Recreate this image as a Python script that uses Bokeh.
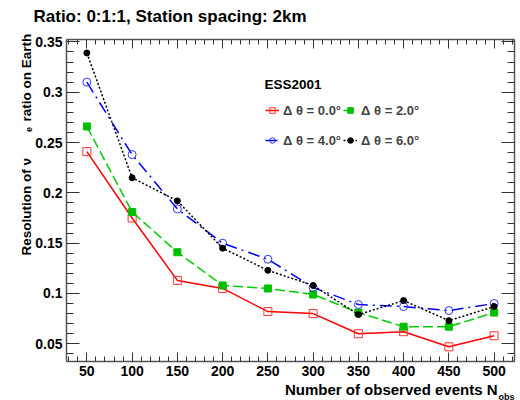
import numpy as np
from bokeh.plotting import figure
from bokeh.models import (Range1d, LinearAxis, FixedTicker, Label, Legend, LegendItem,
                          ColumnDataSource, CustomLabelingPolicy)
from bokeh.embed import file_html
from bokeh.resources import INLINE

# ---------------- data ----------------
n_obs = [50, 100, 150, 200, 250, 300, 350, 400, 450, 500]
res_dtheta_0 = [0.241, 0.175, 0.113, 0.105, 0.082, 0.080, 0.060, 0.062, 0.047, 0.058]
res_dtheta_2 = [0.266, 0.181, 0.141, 0.108, 0.105, 0.099, 0.081, 0.067, 0.067, 0.081]
res_dtheta_4 = [0.310, 0.238, 0.184, 0.150, 0.134, 0.106, 0.089, 0.087, 0.083, 0.090]
res_dtheta_6 = [0.339, 0.215, 0.192, 0.145, 0.123, 0.108, 0.079, 0.093, 0.073, 0.087]
series_labels = ["\u0394 \u03b8 = 0.0\u00b0", "\u0394 \u03b8 = 2.0\u00b0",
                 "\u0394 \u03b8 = 4.0\u00b0", "\u0394 \u03b8 = 6.0\u00b0"]
x_tick_values = [50, 100, 150, 200, 250, 300, 350, 400, 450, 500]
x_tick_labels = ["50", "100", "150", "200", "250", "300", "350", "400", "450", "500"]
y_tick_values = [0.05, 0.1, 0.15, 0.2, 0.25, 0.3, 0.35]
y_tick_labels = ["0.05", "0.1", "0.15", "0.2", "0.25", "0.3", "0.35"]
title_text = "Ratio: 0:1:1, Station spacing: 2km"
legend_title = "ESS2001"

FONT = "Liberation Sans"

# frame in canvas pixels: left 66, right 514, top 39, bottom 361
p = figure(width=520, height=400, output_backend="svg", toolbar_location=None,
           x_range=Range1d(27.5, 522.5), y_range=Range1d(0.0324, 0.3524),
           min_border_left=66, min_border_right=6, min_border_top=39, min_border_bottom=39,
           x_axis_type=None, y_axis_type=None)
p.outline_line_color = None
p.background_fill_color = "white"
p.border_fill_color = "white"

x_minor = list(np.arange(30, 521, 10))
y_minor = list(np.round(np.arange(0.04, 0.351, 0.01), 3))
xt = FixedTicker(ticks=x_tick_values, minor_ticks=x_minor)
yt = FixedTicker(ticks=y_tick_values, minor_ticks=y_minor)

AX_COL = "#555555"
no_labels = CustomLabelingPolicy(code="for (const i of indices) { indices.unset(i) } return indices")


def style_axis(ax, tick_in, minor_in, show_labels):
    ax.axis_line_color = AX_COL
    ax.axis_line_width = 1.5
    ax.major_tick_line_color = "#333333"
    ax.minor_tick_line_color = "#333333"
    ax.major_tick_in = tick_in
    ax.major_tick_out = 0
    ax.minor_tick_in = minor_in
    ax.minor_tick_out = 0
    ax.major_label_text_font = FONT
    ax.major_label_text_font_style = "bold"
    ax.major_label_text_color = "black"
    if show_labels:
        ax.major_label_text_font_size = "14px"
        ax.major_label_standoff = 4
    else:
        ax.major_label_text_font_size = "0px"
        ax.major_label_policy = no_labels
        ax.major_label_standoff = 0


xb = LinearAxis(ticker=xt, major_label_overrides=dict(zip(x_tick_values, x_tick_labels)))
style_axis(xb, 9, 5, True)
p.add_layout(xb, "below")
xa = LinearAxis(ticker=xt)
style_axis(xa, 9, 5, False)
p.add_layout(xa, "above")
yl = LinearAxis(ticker=yt, major_label_overrides=dict(zip(y_tick_values, y_tick_labels)))
style_axis(yl, 13, 7, True)
p.add_layout(yl, "left")
yr = LinearAxis(ticker=yt)
style_axis(yr, 13, 7, False)
p.add_layout(yr, "right")

# ---------------- series ----------------
src = ColumnDataSource(dict(x=n_obs, r0=res_dtheta_0, r2=res_dtheta_2, r4=res_dtheta_4, r6=res_dtheta_6))

l0 = p.line("x", "r0", source=src, line_color="#ff0000", line_width=1.5)
m0 = p.scatter("x", "r0", source=src, marker="square", size=8, line_color="#ff3333",
               fill_color=None, line_width=1)
l2 = p.line("x", "r2", source=src, line_color="#00cc00", line_width=1.5, line_dash="10 4")
m2 = p.scatter("x", "r2", source=src, marker="square", size=7, line_color="#00c000",
               fill_color="#00c000")
l4 = p.line("x", "r4", source=src, line_color="#0000ff", line_width=1.5, line_dash="12 5 2 5")
m4 = p.scatter("x", "r4", source=src, marker="circle", size=8, line_color="#3333ff",
               fill_color=None, line_width=1)
l6 = p.line("x", "r6", source=src, line_color="black", line_width=1.5, line_dash="2 2")
m6 = p.scatter("x", "r6", source=src, marker="circle", size=6, line_color="black",
               fill_color="black")

legend = Legend(items=[LegendItem(label=series_labels[0], renderers=[l0, m0]),
                       LegendItem(label=series_labels[1], renderers=[l2, m2]),
                       LegendItem(label=series_labels[2], renderers=[l4, m4]),
                       LegendItem(label=series_labels[3], renderers=[l6, m6])],
                orientation="horizontal", ncols=2,
                location=(199, 207),
                label_text_font=FONT, label_text_font_style="bold", label_text_font_size="13px",
                label_height=28, label_standoff=4, glyph_width=14, glyph_height=14,
                spacing=2, padding=0, margin=0,
                border_line_color=None, background_fill_alpha=0)
p.add_layout(legend, "center")

# legend header inside the frame (frame-relative screen coords)
p.add_layout(Label(x=198, y=277, x_units="screen", y_units="screen", text=legend_title,
                   text_font=FONT, text_font_style="bold", text_font_size="13.5px",
                   text_baseline="alphabetic", text_color="black"))


# ---------------- texts outside the frame (canvas coords, in side panels) ----------------
def lab(text, x, y, size, side, align="left", baseline="alphabetic", angle=0.0):
    p.add_layout(Label(x=x, y=y, x_units="canvas", y_units="canvas", text=text,
                       text_font=FONT, text_font_style="bold", text_font_size=size,
                       text_align=align, text_baseline=baseline, angle=angle,
                       text_color="black"), side)

lab(title_text, 33, 16, "17px", "above")
lab("obs", 498, 396, "9px", "above")
lab("e", 28.5, 129, "9px", "above", align="center", angle=np.pi / 2)
lab("Number of observed events N", 497, 389, "15px", "below", align="right")
lab("Resolution of \u03bd", 26, 255, "13.5px", "left", angle=np.pi / 2)
lab("ratio on Earth", 26, 121, "13.5px", "left", align="left", angle=np.pi / 2)

open("out.html", "w").write(file_html(p, INLINE))
